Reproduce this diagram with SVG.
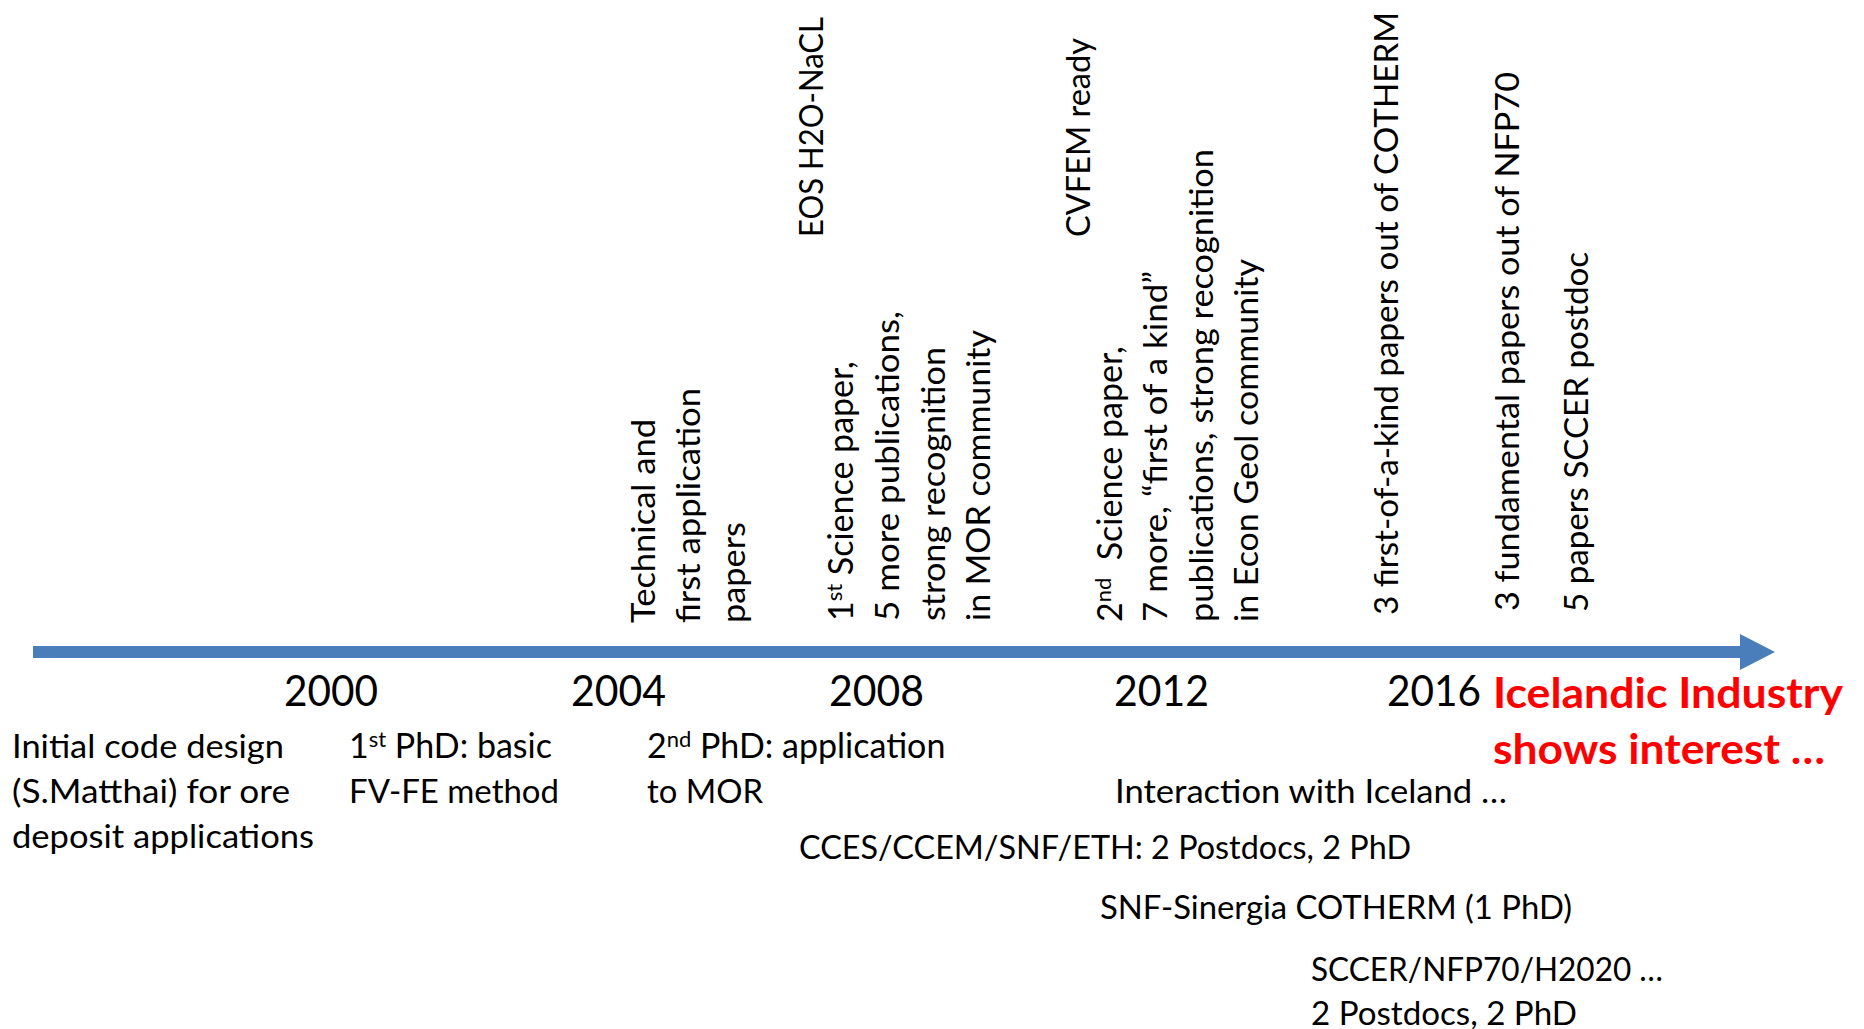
<svg xmlns="http://www.w3.org/2000/svg" width="1864" height="1029" viewBox="0 0 1864 1029">
<style>
text{font-family:Lato,"Open Sans","Liberation Sans",sans-serif;fill:#000}
.b{font-size:33px}
.s{font-size:34px}
.y{font-size:42px}
.r{font-size:42px;font-weight:bold;fill:#ff0000}
.sup{font-size:22px}
</style>
<rect width="1864" height="1029" fill="#fff"/>
<g id="connectors">
<path d="M33,646 H1740 V634 L1775,652 L1740,670 V658 H33 Z" fill="#4a7ebb"/>
</g>
<g id="years">
<text class="y" x="284" y="706" textLength="94" lengthAdjust="spacingAndGlyphs">2000</text>
<text class="y" x="571" y="706" textLength="95" lengthAdjust="spacingAndGlyphs">2004</text>
<text class="y" x="829" y="706" textLength="95" lengthAdjust="spacingAndGlyphs">2008</text>
<text class="y" x="1114" y="706" textLength="95" lengthAdjust="spacingAndGlyphs">2012</text>
<text class="y" x="1387" y="706" textLength="94" lengthAdjust="spacingAndGlyphs">2016</text>
</g>
<g id="industry">
<text class="r" x="1493" y="708" textLength="350" lengthAdjust="spacingAndGlyphs">Icelandic Industry</text>
<text class="r" x="1493" y="764" textLength="332" lengthAdjust="spacingAndGlyphs">shows interest …</text>
</g>
<g id="initial">
<text class="b" x="12" y="758" textLength="272" lengthAdjust="spacingAndGlyphs">Initial code design</text>
<text class="b" x="12" y="803" textLength="278" lengthAdjust="spacingAndGlyphs">(S.Matthai) for ore</text>
<text class="b" x="12" y="848" textLength="302" lengthAdjust="spacingAndGlyphs">deposit applications</text>
</g>
<g id="phd1">
<text class="s" x="349" y="758">1<tspan class="sup" dy="-11">st</tspan><tspan dy="11"> PhD: basic</tspan></text>
<text class="b" x="349" y="803" textLength="210" lengthAdjust="spacingAndGlyphs">FV-FE method</text>
</g>
<g id="phd2">
<text class="s" x="647" y="758">2<tspan class="sup" dy="-11">nd</tspan><tspan dy="11"> PhD: application</tspan></text>
<text class="b" x="647" y="803" textLength="116" lengthAdjust="spacingAndGlyphs">to MOR</text>
</g>
<g id="iceland">
<text class="b" x="1115" y="803" textLength="392" lengthAdjust="spacingAndGlyphs">Interaction with Iceland …</text>
</g>
<g id="cces">
<text class="b" x="799" y="859" textLength="612" lengthAdjust="spacingAndGlyphs">CCES/CCEM/SNF/ETH: 2 Postdocs, 2 PhD</text>
</g>
<g id="sinergia">
<text class="b" x="1100" y="919" textLength="472" lengthAdjust="spacingAndGlyphs">SNF-Sinergia COTHERM (1 PhD)</text>
</g>
<g id="sccer">
<text class="b" x="1311" y="981" textLength="352" lengthAdjust="spacingAndGlyphs">SCCER/NFP70/H2020 …</text>
<text class="b" x="1311" y="1025" textLength="266" lengthAdjust="spacingAndGlyphs">2 Postdocs, 2 PhD</text>
</g>
<g id="technical" transform="translate(655,623) rotate(-90)">
<text class="b" x="0" y="0" textLength="204" lengthAdjust="spacingAndGlyphs">Technical and</text>
<text class="b" x="0" y="45" textLength="235" lengthAdjust="spacingAndGlyphs">first application</text>
<text class="b" x="0" y="90" textLength="101" lengthAdjust="spacingAndGlyphs">papers</text>
</g>
<g id="eos" transform="translate(823,237) rotate(-90)">
<text class="b" x="0" y="0" textLength="220" lengthAdjust="spacingAndGlyphs">EOS H2O-NaCL</text>
</g>
<g id="science1" transform="translate(853,621) rotate(-90)">
<text class="s" x="0" y="0">1<tspan class="sup" dy="-11">st</tspan><tspan dy="11"> Science paper,</tspan></text>
<text class="b" x="0" y="46" textLength="310" lengthAdjust="spacingAndGlyphs">5 more publications,</text>
<text class="b" x="0" y="92" textLength="274" lengthAdjust="spacingAndGlyphs">strong recognition</text>
<text class="b" x="0" y="137" textLength="291" lengthAdjust="spacingAndGlyphs">in MOR community</text>
</g>
<g id="cvfem" transform="translate(1090,237) rotate(-90)">
<text class="b" x="0" y="0" textLength="199" lengthAdjust="spacingAndGlyphs">CVFEM ready</text>
</g>
<g id="science2" transform="translate(1122,622) rotate(-90)">
<text class="s" x="0" y="0">2<tspan class="sup" dy="-11">nd</tspan><tspan dy="11" xml:space="preserve">  Science paper,</tspan></text>
<text class="b" x="0" y="45" textLength="351" lengthAdjust="spacingAndGlyphs">7 more, “first of a kind”</text>
<text class="b" x="0" y="91" textLength="473" lengthAdjust="spacingAndGlyphs">publications, strong recognition</text>
<text class="b" x="0" y="136" textLength="363" lengthAdjust="spacingAndGlyphs">in Econ Geol community</text>
</g>
<g id="cotherm" transform="translate(1398,615) rotate(-90)">
<text class="b" x="0" y="0" textLength="603" lengthAdjust="spacingAndGlyphs">3 first-of-a-kind papers out of COTHERM</text>
</g>
<g id="nfp70" transform="translate(1519,611) rotate(-90)">
<text class="b" x="0" y="0" textLength="539" lengthAdjust="spacingAndGlyphs">3 fundamental papers out of NFP70</text>
</g>
<g id="sccerpapers" transform="translate(1588,612) rotate(-90)">
<text class="b" x="0" y="0" textLength="360" lengthAdjust="spacingAndGlyphs">5 papers SCCER postdoc</text>
</g>
</svg>
